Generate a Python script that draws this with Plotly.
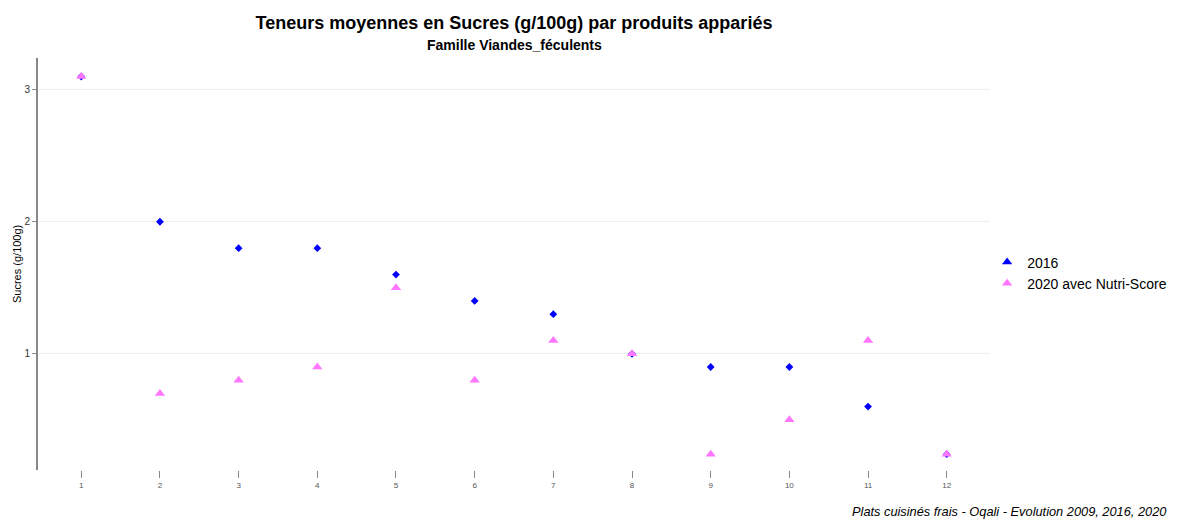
import plotly.graph_objects as go

products = list(range(1, 13))
sucres_2016 = [3.1, 2.0, 1.8, 1.8, 1.6, 1.4, 1.3, 1.0, 0.9, 0.9, 0.6, 0.24]
sucres_2020 = [3.1, 0.7, 0.8, 0.9, 1.5, 0.8, 1.1, 1.0, 0.24, 0.5, 1.1, 0.24]
series_names = ["2016", "2020 avec Nutri-Score"]
colors = ["#0000FF", "#FF77FF"]
y_ticks = [1, 2, 3]

W, H = 1169, 512
L, R, T, B = 30, 187, 50, 50
PW, PH = W - L - R, H - T - B

fig = go.Figure()
fig.add_trace(go.Scatter(x=products, y=sucres_2016, mode="markers", name=series_names[0],
                         marker=dict(symbol="diamond", size=6, color=colors[0]), showlegend=False))
fig.add_trace(go.Scatter(x=products, y=sucres_2020, mode="markers", name=series_names[1],
                         marker=dict(symbol="triangle-up", size=9, color=colors[1]), showlegend=False))
# legend entries (triangles, as in the reference)
for name, c in zip(series_names, colors):
    fig.add_trace(go.Scatter(x=[None], y=[None], mode="markers", name=name,
                             marker=dict(symbol="triangle-up", size=9, color=c)))

fig.update_layout(
    width=W, height=H,
    margin=dict(l=L, r=R, t=T, b=B, autoexpand=False),
    paper_bgcolor="white", plot_bgcolor="white",
    font=dict(family="Liberation Sans, Arial, sans-serif", color="#000000"),
    title=dict(text="<b>Teneurs moyennes en Sucres (g/100g) par produits appariés</b>",
               x=0.5, xref="paper", xanchor="center", y=1 - 15 / H, yanchor="middle",
               font=dict(size=18, color="#000000")),
    legend=dict(x=0.997, y=(462 - 265) / PH, xanchor="left", yanchor="middle", font=dict(size=14),
                tracegroupgap=0, itemwidth=30, bgcolor="rgba(0,0,0,0)"),
    showlegend=True,
)
fig.add_annotation(text="<b>Famille Viandes_féculents</b>", xref="paper", yref="paper",
                   x=0.5, y=1 + 13 / PH, xanchor="center", yanchor="middle", showarrow=False,
                   font=dict(size=14, color="#000000"))
fig.add_annotation(text="Sucres (g/100g)", xref="paper", yref="paper",
                   x=(9 - L) / PW, y=0.5, xanchor="center", yanchor="middle", showarrow=False,
                   textangle=-90, font=dict(size=11, color="#000000"))
fig.update_xaxes(range=[0.45, 12.55], tickvals=products, ticktext=[str(p) for p in products],
                 showgrid=False, zeroline=False, showline=False, automargin=False,
                 ticks="outside", ticklen=7, tickcolor="#888888", tickwidth=1,
                 tickfont=dict(size=8, color="#555555"))
fig.update_yaxes(range=[0.12, 3.24], tickvals=y_ticks, showgrid=True, gridcolor="#EEEEEE",
                 zeroline=False, showline=True, linecolor="#888888", linewidth=2,
                 ticks="outside", ticklen=4, tickcolor="#888888", automargin=False,
                 tickfont=dict(size=10, color="#333333"))
fig.add_annotation(text="<i>Plats cuisinés frais - Oqali - Evolution 2009, 2016, 2020</i>",
                   xref="paper", yref="paper", x=(W - 8 - L) / PW, y=-41 / PH, xanchor="right",
                   yanchor="middle", showarrow=False, font=dict(size=12.8, color="#000000"))
fig.write_html("out.html")
